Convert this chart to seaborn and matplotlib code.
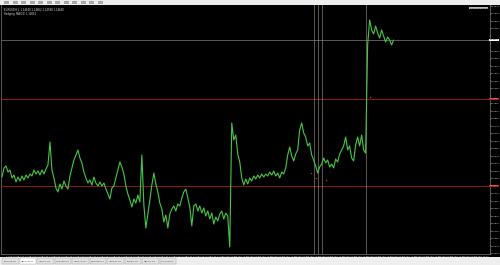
import matplotlib
matplotlib.use("Agg")
import matplotlib.pyplot as plt
import matplotlib.patches as mpatches
from matplotlib.ticker import MultipleLocator, FixedLocator, FuncFormatter
import pandas as pd
import seaborn as sns

# ---------------- data ----------------
close = [1.1327, 1.1336, 1.1338, 1.1332, 1.1334, 1.1326, 1.1329, 1.1322, 1.1327, 1.1323,
         1.1328, 1.1324, 1.1329, 1.1326, 1.1330, 1.1328, 1.1334, 1.1330, 1.1333, 1.1329,
         1.1334, 1.1330, 1.1335, 1.1339, 1.1362, 1.1334, 1.1326, 1.1316, 1.1312, 1.1320,
         1.1315, 1.1323, 1.1318, 1.1315, 1.1328, 1.1336, 1.1344, 1.1349, 1.1354, 1.1346,
         1.1341, 1.1332, 1.1326, 1.1321, 1.1324, 1.1319, 1.1327, 1.1321, 1.1318, 1.1322,
         1.1318, 1.1321, 1.1315, 1.1310, 1.1305, 1.1316, 1.1318, 1.1326, 1.1334, 1.1342,
         1.1337, 1.1330, 1.1318, 1.1310, 1.1304, 1.1297, 1.1305, 1.1301, 1.1309, 1.1302,
         1.1349, 1.1299, 1.1276, 1.1290, 1.1304, 1.1319, 1.1331, 1.1320, 1.1312, 1.1301,
         1.1295, 1.1282, 1.1289, 1.1276, 1.1290, 1.1295, 1.1298, 1.1293, 1.1300, 1.1298,
         1.1306, 1.1312, 1.1315, 1.1306, 1.1297, 1.1278, 1.1298, 1.1300, 1.1293, 1.1298,
         1.1291, 1.1296, 1.1288, 1.1293, 1.1285, 1.1291, 1.1280, 1.1287, 1.1283, 1.1290,
         1.1293, 1.1285, 1.1291, 1.1288, 1.1257, 1.1381, 1.1364, 1.1369, 1.1350, 1.1342,
         1.1326, 1.1319, 1.1325, 1.1320, 1.1326, 1.1323, 1.1328, 1.1325, 1.1329, 1.1326,
         1.1330, 1.1327, 1.1330, 1.1328, 1.1332, 1.1329, 1.1333, 1.1328, 1.1331, 1.1326,
         1.1332, 1.1330, 1.1336, 1.1349, 1.1357, 1.1348, 1.1343, 1.1350, 1.1354, 1.1374,
         1.1381, 1.1371, 1.1367, 1.1358, 1.1361, 1.1349, 1.1344, 1.1338, 1.1331, 1.1337,
         1.1340, 1.1346, 1.1341, 1.1344, 1.1337, 1.1340, 1.1336, 1.1345, 1.1342, 1.1350,
         1.1354, 1.1358, 1.1367, 1.1354, 1.1358, 1.1346, 1.1343, 1.1359, 1.1367, 1.1358,
         1.1369, 1.1354, 1.1351, 1.1459, 1.1484, 1.1474, 1.1470, 1.1478, 1.1471, 1.1466,
         1.1474, 1.1468, 1.1462, 1.1467, 1.1464, 1.1459, 1.1464]
bars = [2 * i for i in range(len(close))]          # one sample every 2 bars

hline_grey = 1.1464
hlines_red = [1.1405, 1.1318]
vline_bars = [312, 316, 320, 364]
mark_bars = [309, 314, 324, 368]
mark_prices = [1.1331, 1.1326, 1.1324, 1.1407]

price_low, price_high = 1.1250, 1.1500
date_labels = [f"{d} Sep {h:02d}:00" for d in range(1, 21) for h in (0, 12)]
tab_labels = ["EURUSD,H1", "GBPUSD,H1", "USDJPY,H1", "AUDUSD,H1", "USDCAD,H1",
              "NZDUSD,H1", "USDCHF,H1", "EURJPY,H1", "GBPJPY,H1", "XAUUSD,H1"]

# ---------------- figure ----------------
sns.set_style("dark")
plt.rcParams['font.family'] = ['DejaVu Sans']

W, H = 500, 265
fig = plt.figure(figsize=(W / 100, H / 100), dpi=100, facecolor="#000000")


def fx(px):
    return px / W


def fy(py):
    return 1 - py / H


# top toolbar
fig.patches.append(mpatches.Rectangle((0, fy(4.5)), 1, 4.5 / H, transform=fig.transFigure,
                                      facecolor="#ECECEC", edgecolor="none", zorder=0))
for i in range(12):
    fig.patches.append(mpatches.Rectangle((fx(4 + i * 8.5), fy(3.5)), fx(5), 2.5 / H,
                                          transform=fig.transFigure, facecolor="#A8A8A8",
                                          edgecolor="none", zorder=1))
# bottom tab row
fig.patches.append(mpatches.Rectangle((0, 0), 1, 8 / H, transform=fig.transFigure,
                                      facecolor="#EEEEEE", edgecolor="none", zorder=0))
for i, t in enumerate(tab_labels):
    x0 = 2 + i * 17.5
    fc = "#FFFFFF" if i == 1 else "#E2E2E2"
    fig.patches.append(mpatches.Rectangle((fx(x0), fy(264)), fx(16.5), 6 / H,
                                          transform=fig.transFigure, facecolor=fc,
                                          edgecolor="#A0A0A0", linewidth=0.3, zorder=1))
    fig.text(fx(x0 + 8.25), fy(261), t, fontsize=1.6, color="#404040",
             ha="center", va="center", zorder=2)

# main chart axes
ax = fig.add_axes([fx(1), fy(254), fx(488.5), 250 / H])
ax.set_facecolor("#000000")

df = pd.DataFrame({"bar": bars, "close": close})
sns.lineplot(data=df, x="bar", y="close", ax=ax, color="#46C846", linewidth=0.8,
             sort=False, estimator=None, zorder=5)

ax.axhline(hline_grey, color="#7C7C7C", linewidth=0.5, zorder=3)
for p in hlines_red:
    ax.axhline(p, color="#A81C1C", linewidth=0.6, zorder=3)
for b in vline_bars:
    ax.axvline(b, color="#A39D86", linewidth=0.4, zorder=3)
ax.scatter(mark_bars, mark_prices, s=1.2, color="#C03030", zorder=6, linewidths=0)

ax.set_xlim(-1, 488)
ax.set_ylim(price_low, price_high)
ax.set_xlabel("")
ax.set_ylabel("")
ax.grid(False)
for s in ("top", "bottom", "left", "right"):
    ax.spines[s].set_visible(True)
    ax.spines[s].set_color("#9A9A9A")
    ax.spines[s].set_linewidth(0.4)

# right price scale (labels hidden where a highlighted label sits)
highlighted = [hline_grey] + hlines_red


def price_fmt(v, pos):
    if any(abs(v - h) < 0.0005 for h in highlighted):
        return ""
    return f"{v:.5f}"


ax.yaxis.tick_right()
ax.yaxis.set_major_locator(MultipleLocator(0.00075))
ax.yaxis.set_major_formatter(FuncFormatter(price_fmt))
ax.tick_params(axis="y", colors="#E6E6E6", labelsize=1.55, length=0.9, width=0.3, pad=0.2,
               direction="out")

# bottom date scale
tick_pos = [12 * i + 4 for i in range(len(date_labels))]
ax.xaxis.set_major_locator(FixedLocator(tick_pos))
ax.set_xticklabels(date_labels)
ax.tick_params(axis="x", colors="#CCCCCC", labelsize=1.6, length=0.8, width=0.3, pad=0.3)
for lbl in ax.get_xticklabels():
    lbl.set_ha("left")

# highlighted price labels on the right axis
ax.text(1.001, hline_grey, f"{hline_grey:.5f}", transform=ax.get_yaxis_transform(),
        fontsize=1.55, color="#000000", va="center", ha="left",
        bbox=dict(boxstyle="square,pad=0.25", facecolor="#FFFFFF", edgecolor="none"), zorder=10)
for p in hlines_red:
    ax.text(1.001, p, f"{p:.5f}", transform=ax.get_yaxis_transform(),
            fontsize=1.55, color="#FFFFFF", va="center", ha="left",
            bbox=dict(boxstyle="square,pad=0.25", facecolor="#C01818", edgecolor="none"), zorder=10)

# chart header text
ax.text(0.006, 0.985, "EURUSD,H1  1.14640 1.14662 1.14598 1.14640", transform=ax.transAxes,
        fontsize=1.8, color="#E0E0E0", va="top", ha="left")
ax.text(0.006, 0.968, "Hedging  MA(20) 1.14652", transform=ax.transAxes,
        fontsize=1.8, color="#E0E0E0", va="top", ha="left")
ax.text(0.997, 0.985, "One Click Trading", transform=ax.transAxes,
        fontsize=1.5, color="#333333", va="top", ha="right",
        bbox=dict(boxstyle="square,pad=0.2", facecolor="#B8B8B8", edgecolor="none"))

fig.savefig("out.png", dpi=100, facecolor=fig.get_facecolor())
